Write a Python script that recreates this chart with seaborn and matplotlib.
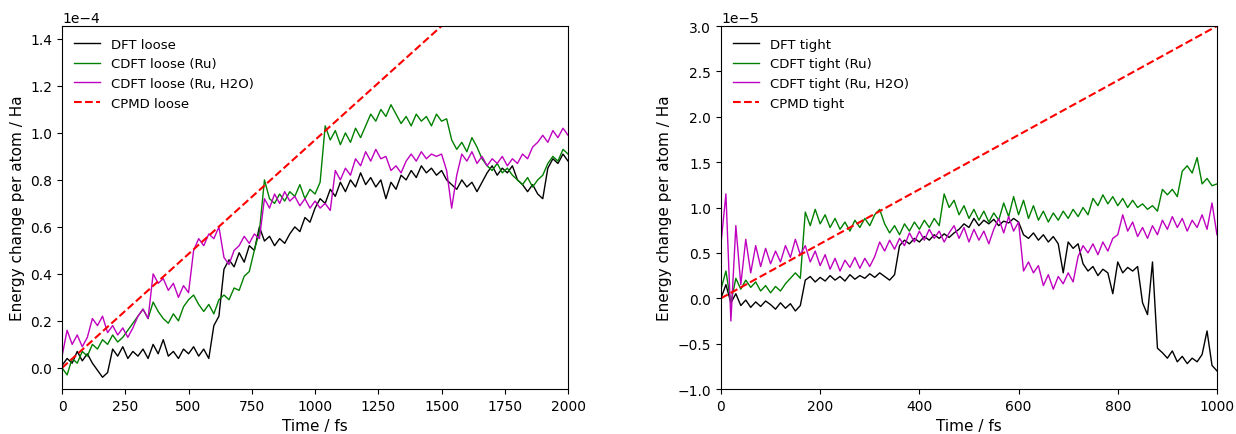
import numpy as np
import matplotlib
matplotlib.use("Agg")
import matplotlib.pyplot as plt
import seaborn as sns

# time axes (fs)
t_loose = np.arange(0, 2001, 20)
t_tight = np.arange(0, 1001, 10)

# loose run, energy change per atom in units of 1e-4 Ha
dft_loose = [
    0.01, 0.04, 0.02, 0.07, 0.03, 0.06, 0.02, -0.01, -0.04, -0.02,
    0.08, 0.05, 0.09, 0.04, 0.07, 0.05, 0.08, 0.04, 0.10, 0.06,
    0.12, 0.05, 0.07, 0.04, 0.08, 0.06, 0.09, 0.05, 0.08, 0.04,
    0.18, 0.22, 0.42, 0.46, 0.43, 0.49, 0.45, 0.52, 0.50, 0.60,
    0.54, 0.56, 0.52, 0.55, 0.53, 0.57, 0.60, 0.58, 0.64, 0.62,
    0.68, 0.72, 0.70, 0.76, 0.73, 0.79, 0.75, 0.80, 0.77, 0.83,
    0.78, 0.81, 0.77, 0.80, 0.72, 0.79, 0.76, 0.82, 0.80, 0.84,
    0.81, 0.86, 0.83, 0.85, 0.82, 0.84, 0.80, 0.78, 0.76, 0.80,
    0.77, 0.79, 0.75, 0.79, 0.83, 0.86, 0.82, 0.85, 0.83, 0.86,
    0.80, 0.78, 0.75, 0.78, 0.74, 0.72, 0.85, 0.89, 0.87, 0.91,
    0.88,
]
cdft_ru_loose = [
    0.00, -0.03, 0.04, 0.02, 0.07, 0.05, 0.10, 0.08, 0.12, 0.10,
    0.14, 0.11, 0.13, 0.16, 0.19, 0.22, 0.25, 0.21, 0.28, 0.24,
    0.21, 0.19, 0.23, 0.20, 0.26, 0.29, 0.31, 0.27, 0.24, 0.27,
    0.23, 0.29, 0.31, 0.29, 0.34, 0.33, 0.39, 0.41, 0.50, 0.58,
    0.80, 0.72, 0.70, 0.74, 0.71, 0.75, 0.73, 0.78, 0.72, 0.76,
    0.74, 0.79, 1.03, 0.97, 1.01, 0.95, 1.00, 0.96, 1.02, 0.98,
    1.03, 1.08, 1.05, 1.10, 1.07, 1.12, 1.08, 1.04, 1.07, 1.03,
    1.08, 1.05, 1.07, 1.03, 1.08, 1.05, 1.06, 0.97, 0.93, 0.96,
    0.92, 0.98, 0.94, 0.89, 0.86, 0.84, 0.87, 0.83, 0.85, 0.82,
    0.80, 0.78, 0.81, 0.77, 0.80, 0.82, 0.87, 0.90, 0.88, 0.93,
    0.91,
]
cdft_ruh2o_loose = [
    0.05, 0.16, 0.10, 0.14, 0.09, 0.13, 0.21, 0.18, 0.22, 0.15,
    0.18, 0.14, 0.17, 0.13, 0.17, 0.22, 0.25, 0.21, 0.40, 0.36,
    0.38, 0.33, 0.36, 0.30, 0.35, 0.32, 0.50, 0.55, 0.52, 0.57,
    0.55, 0.60, 0.47, 0.44, 0.50, 0.52, 0.56, 0.53, 0.57, 0.55,
    0.72, 0.68, 0.74, 0.70, 0.75, 0.71, 0.73, 0.69, 0.72, 0.68,
    0.71, 0.68, 0.70, 0.67, 0.84, 0.80, 0.85, 0.82, 0.89, 0.86,
    0.92, 0.88, 0.93, 0.89, 0.90, 0.84, 0.86, 0.83, 0.88, 0.91,
    0.88, 0.92, 0.89, 0.91, 0.90, 0.91, 0.84, 0.68, 0.82, 0.91,
    0.88, 0.92, 0.87, 0.90, 0.86, 0.89, 0.87, 0.90, 0.86, 0.89,
    0.87, 0.91, 0.89, 0.94, 0.96, 0.99, 0.96, 1.01, 0.98, 1.02,
    0.99,
]
cpmd_loose_t = [0, 2000]
cpmd_loose = [0.0, 1.94]

# tight run, units of 1e-5 Ha
dft_tight = [
    0.00, 0.15, -0.05, 0.05, -0.08, -0.02, -0.10, -0.04, -0.09, -0.03,
    -0.07, -0.12, -0.05, -0.11, -0.06, -0.14, -0.08, 0.20, 0.24, 0.18,
    0.23, 0.19, 0.25, 0.20, 0.24, 0.19, 0.26, 0.21, 0.25, 0.22,
    0.27, 0.23, 0.28, 0.24, 0.20, 0.26, 0.58, 0.64, 0.60, 0.66,
    0.62, 0.68, 0.64, 0.70, 0.66, 0.71, 0.67, 0.72, 0.76, 0.82,
    0.78, 0.88, 0.80, 0.86, 0.82, 0.87, 0.80, 0.85, 0.83, 0.88,
    0.84, 0.70, 0.66, 0.72, 0.64, 0.70, 0.62, 0.68, 0.60, 0.28,
    0.62, 0.55, 0.60, 0.38, 0.30, 0.35, 0.25, 0.32, 0.28, 0.05,
    0.40, 0.28, 0.34, 0.30, 0.35, -0.05, -0.18, 0.40, -0.55, -0.60,
    -0.66, -0.58, -0.70, -0.64, -0.72, -0.66, -0.70, -0.62, -0.36, -0.74,
    -0.80,
]
cdft_ru_tight = [
    0.10, 0.30, -0.05, 0.22, 0.10, 0.20, 0.12, 0.18, 0.08, 0.14,
    0.06, 0.13, 0.08, 0.16, 0.22, 0.28, 0.22, 0.95, 0.80, 0.98,
    0.82, 0.92, 0.78, 0.88, 0.76, 0.84, 0.74, 0.86, 0.78, 0.88,
    0.80, 0.92, 0.98, 0.82, 0.72, 0.80, 0.70, 0.82, 0.74, 0.84,
    0.76, 0.86, 0.78, 0.88, 0.80, 1.15, 1.00, 1.08, 0.92, 1.02,
    0.88, 0.98, 0.86, 0.96, 0.84, 0.94, 0.86, 1.05, 0.90, 1.12,
    0.92, 1.08, 0.88, 1.02, 0.86, 0.96, 0.84, 0.94, 0.86, 0.96,
    0.88, 0.98, 0.90, 1.00, 0.92, 1.10, 1.02, 1.14, 1.04, 1.12,
    1.02, 1.10, 1.00, 1.08, 1.00, 1.04, 0.98, 1.02, 0.96, 1.20,
    1.14, 1.20, 1.12, 1.40, 1.46, 1.38, 1.55, 1.26, 1.32, 1.24,
    1.26,
]
cdft_ruh2o_tight = [
    0.60, 1.15, -0.25, 0.80, 0.15, 0.65, 0.28, 0.58, 0.35, 0.55,
    0.38, 0.52, 0.40, 0.58, 0.45, 0.65, 0.48, 0.58, 0.40, 0.52,
    0.36, 0.48, 0.32, 0.44, 0.30, 0.42, 0.34, 0.45, 0.33, 0.44,
    0.35, 0.46, 0.62, 0.52, 0.64, 0.54, 0.66, 0.58, 0.72, 0.62,
    0.74, 0.64, 0.76, 0.66, 0.74, 0.62, 0.72, 0.80, 0.66, 0.78,
    0.62, 0.76, 0.64, 0.74, 0.60, 0.76, 0.88, 0.72, 0.90, 0.74,
    0.84, 0.30, 0.40, 0.28, 0.36, 0.14, 0.26, 0.10, 0.24, 0.16,
    0.28, 0.18, 0.46, 0.58, 0.50, 0.60, 0.48, 0.62, 0.52, 0.66,
    0.70, 0.92, 0.74, 0.84, 0.68, 0.78, 0.66, 0.80, 0.70, 0.86,
    0.76, 0.90, 0.78, 0.88, 0.74, 0.86, 0.78, 0.92, 0.76, 1.05,
    0.70,
]
cpmd_tight_t = [0, 1000]
cpmd_tight = [0.0, 3.0]


def draw_panel(ax, t, dft, ru, ruh2o, cpmd_t, cpmd, scale, tag):
    sns.lineplot(x=t, y=np.array(dft) * scale, ax=ax, color="black", lw=1, label=f"DFT {tag}")
    sns.lineplot(x=t, y=np.array(ru) * scale, ax=ax, color="green", lw=1, label=f"CDFT {tag} (Ru)")
    sns.lineplot(x=t, y=np.array(ruh2o) * scale, ax=ax, color="m", lw=1, label=f"CDFT {tag} (Ru, H2O)")
    sns.lineplot(x=cpmd_t, y=np.array(cpmd) * scale, ax=ax, color="red", lw=1.5,
                 linestyle="--", label=f"CPMD {tag}")
    ax.set_xlabel("Time / fs", fontsize=11)
    ax.set_ylabel("Energy change per atom / Ha", fontsize=11)
    ax.legend(loc="upper left", frameon=False, fontsize=9.5)
    ax.ticklabel_format(axis="y", style="sci", scilimits=(0, 0))


fig = plt.figure(figsize=(12.36, 4.35), dpi=100)
ax1 = fig.add_axes([0.0502, 0.1034, 0.4094, 0.8345])
ax2 = fig.add_axes([0.5833, 0.1034, 0.4013, 0.8345])

draw_panel(ax1, t_loose, dft_loose, cdft_ru_loose, cdft_ruh2o_loose,
           cpmd_loose_t, cpmd_loose, 1e-4, "loose")
ax1.set_xlim(0, 2000)
ax1.set_ylim(-0.09e-4, 1.455e-4)

draw_panel(ax2, t_tight, dft_tight, cdft_ru_tight, cdft_ruh2o_tight,
           cpmd_tight_t, cpmd_tight, 1e-5, "tight")
ax2.set_xlim(0, 1000)
ax2.set_ylim(-1e-5, 3e-5)

fig.savefig("out.png", dpi=100)
